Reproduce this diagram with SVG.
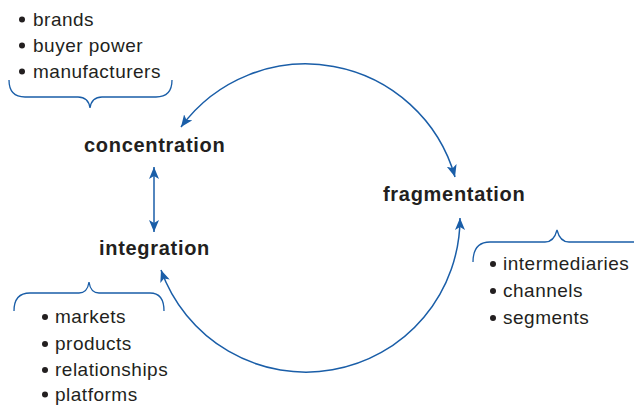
<svg xmlns="http://www.w3.org/2000/svg" width="634" height="405" viewBox="0 0 634 405">
<style>
.lbl{font-family:"Liberation Sans",Arial,sans-serif;font-weight:bold;font-size:20px;letter-spacing:0.7px;fill:#231f20}
.item{font-family:"Liberation Sans",Arial,sans-serif;font-size:19px;letter-spacing:0.5px;fill:#231f20}
.dot{fill:#231f20}
.conn{fill:none;stroke:#1a5ea8;stroke-width:1.5}
.brace{fill:none;stroke:#1a5ea8;stroke-width:1.3}
</style>
<defs>
<marker id="ah" viewBox="0 0 12 10" refX="12" refY="5" markerWidth="12" markerHeight="10" markerUnits="userSpaceOnUse" orient="auto-start-reverse">
<path d="M0,0 L12,5 L0,10 L3,5 z" fill="#1a5ea8"/>
</marker>
</defs>
<rect width="634" height="405" fill="#ffffff"/>
<g id="connectors">
<path class="conn" d="M181,127 A155 155 0 0 1 455,177" marker-start="url(#ah)" marker-end="url(#ah)"/>
<path class="conn" d="M161,270 A154 154 0 0 0 460,218" marker-start="url(#ah)" marker-end="url(#ah)"/>
<path class="conn" d="M154,167 L154,232" marker-start="url(#ah)" marker-end="url(#ah)"/>
</g>
<g id="concentration">
<text class="lbl" x="84" y="152">concentration</text>
</g>
<g id="integration">
<text class="lbl" x="99" y="255">integration</text>
</g>
<g id="fragmentation">
<text class="lbl" x="383" y="201">fragmentation</text>
</g>
<g id="concentration-list">
<path class="brace" d="M9,80 C9,90 13,97 25,97 L78,97 C85,97 89,101 90,108 C91,101 95,97 102,97 L156,97 C168,97 172,90 172,80"/>
<circle class="dot" cx="22" cy="19.5" r="3"/>
<text class="item" x="33" y="25.5">brands</text>
<circle class="dot" cx="22" cy="45.5" r="3"/>
<text class="item" x="33" y="51.5">buyer power</text>
<circle class="dot" cx="22" cy="71.5" r="3"/>
<text class="item" x="33" y="77.5">manufacturers</text>
</g>
<g id="fragmentation-list">
<path class="brace" d="M473,262 C473,250 478,242 490,242 L545,242 C551,242 555,238 557,230 C559,238 563,242 569,242 L634,242"/>
<circle class="dot" cx="493" cy="264" r="3"/>
<text class="item" x="503" y="270">intermediaries</text>
<circle class="dot" cx="493" cy="291" r="3"/>
<text class="item" x="503" y="297">channels</text>
<circle class="dot" cx="493" cy="318" r="3"/>
<text class="item" x="503" y="324">segments</text>
</g>
<g id="integration-list">
<path class="brace" d="M14,311 C14,300 19,293 30,293 L79,293 C85,293 88,289 89,282 C90,289 93,293 99,293 L150,293 C160,293 164,300 164,311"/>
<circle class="dot" cx="45" cy="317" r="3"/>
<text class="item" x="55" y="323">markets</text>
<circle class="dot" cx="45" cy="344" r="3"/>
<text class="item" x="55" y="350">products</text>
<circle class="dot" cx="45" cy="370" r="3"/>
<text class="item" x="55" y="376">relationships</text>
<circle class="dot" cx="45" cy="394.5" r="3"/>
<text class="item" x="55" y="400.5">platforms</text>
</g>
</svg>
